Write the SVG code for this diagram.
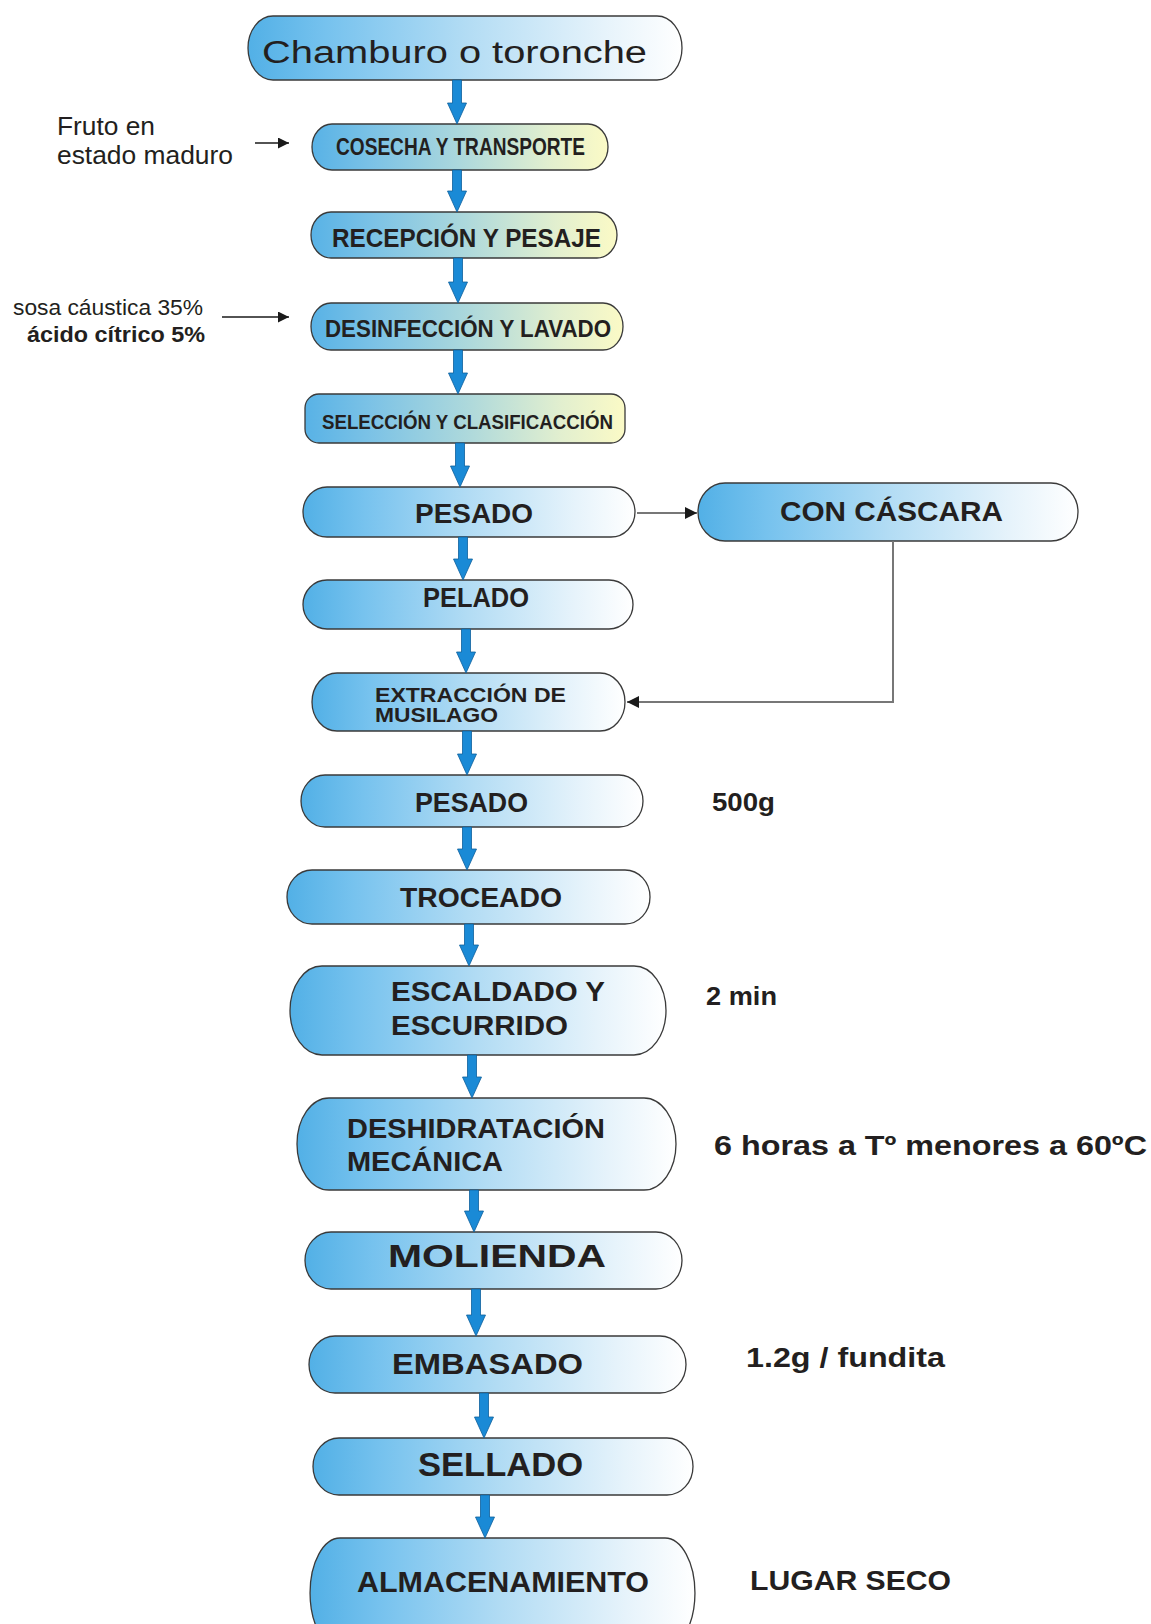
<svg xmlns="http://www.w3.org/2000/svg" width="1151" height="1624" viewBox="0 0 1151 1624">
  <defs>
    <linearGradient id="gBlue" x1="0" y1="0" x2="1" y2="0">
      <stop offset="0" stop-color="#52b0e6"/>
      <stop offset="0.18" stop-color="#76c2ee"/>
      <stop offset="0.5" stop-color="#b2dcf4"/>
      <stop offset="0.82" stop-color="#e6f3fb"/>
      <stop offset="1" stop-color="#ffffff"/>
    </linearGradient>
    <linearGradient id="gYellow" x1="0" y1="0" x2="1" y2="0">
      <stop offset="0" stop-color="#58b2e6"/>
      <stop offset="0.2" stop-color="#7bc2e6"/>
      <stop offset="0.5" stop-color="#acd8dc"/>
      <stop offset="0.8" stop-color="#e2efcf"/>
      <stop offset="1" stop-color="#fbfac6"/>
    </linearGradient>
    <marker id="blackHead" viewBox="0 0 10 10" refX="10" refY="5" markerWidth="11" markerHeight="11" markerUnits="userSpaceOnUse" orient="auto">
      <path d="M0,0 L10,5 L0,10 Z" fill="#1a1a1a"/>
    </marker>
    <marker id="blackHeadL" viewBox="0 0 10 10" refX="10" refY="5" markerWidth="12" markerHeight="12" markerUnits="userSpaceOnUse" orient="auto">
      <path d="M0,0 L10,5 L0,10 Z" fill="#1a1a1a"/>
    </marker>
  </defs>
  <style>
    .node { stroke: #3a3a3a; stroke-width: 1.3; }
    .blue { fill: url(#gBlue); }
    .yel { fill: url(#gYellow); }
    .t { font-family: "Liberation Sans", Arial, sans-serif; fill: #231f20; }
    .b { font-weight: bold; }
    .flow { fill: #1a8ad6; stroke: #0e5f9c; stroke-width: 0.8; }
    .thin { fill: none; stroke: #1a1a1a; stroke-width: 1.5; }
    .grey { fill: none; stroke: #777; stroke-width: 2; }
  </style>
  <rect width="1151" height="1624" fill="#ffffff"/>

  <!-- side inputs -->
  <g id="input-fruto">
    <text class="t" x="57" y="135" font-size="25" textLength="98" lengthAdjust="spacingAndGlyphs">Fruto en</text>
    <text class="t" x="57" y="164" font-size="25" textLength="176" lengthAdjust="spacingAndGlyphs">estado maduro</text>
  </g>
  <g id="input-quimicos">
    <text class="t" x="13" y="315" font-size="22" textLength="190" lengthAdjust="spacingAndGlyphs">sosa cáustica 35%</text>
    <text class="t b" x="27" y="342" font-size="22" textLength="178" lengthAdjust="spacingAndGlyphs">ácido cítrico 5%</text>
  </g>

  <!-- process nodes -->
  <g id="n-chamburo">
    <path class="node blue" d="M273,16 H657 A25,32 0 0 1 657,80 H273 A25,32 0 0 1 273,16 Z"/>
    <text class="t" x="262" y="63" font-size="31" textLength="385" lengthAdjust="spacingAndGlyphs">Chamburo o toronche</text>
  </g>
  <g id="n-cosecha">
    <path class="node yel" d="M332,124 H588 A20,23 0 0 1 588,170 H332 A20,23 0 0 1 332,124 Z"/>
    <text class="t b" x="336" y="155" font-size="23" textLength="249" lengthAdjust="spacingAndGlyphs">COSECHA Y TRANSPORTE</text>
  </g>
  <g id="n-recepcion">
    <path class="node yel" d="M331,212 H597 A20,23 0 0 1 597,258 H331 A20,23 0 0 1 331,212 Z"/>
    <text class="t b" x="332" y="247" font-size="26" textLength="269" lengthAdjust="spacingAndGlyphs">RECEPCIÓN Y PESAJE</text>
  </g>
  <g id="n-desinfeccion">
    <path class="node yel" d="M331,303 H603 A20,23.5 0 0 1 603,350 H331 A20,23.5 0 0 1 331,303 Z"/>
    <text class="t b" x="325" y="337" font-size="24" textLength="286" lengthAdjust="spacingAndGlyphs">DESINFECCIÓN Y LAVADO</text>
  </g>
  <g id="n-seleccion">
    <rect class="node yel" x="305" y="394" width="320" height="49" rx="14" ry="14"/>
    <text class="t b" x="322" y="429" font-size="21" textLength="291" lengthAdjust="spacingAndGlyphs">SELECCIÓN Y CLASIFICACCIÓN</text>
  </g>
  <g id="n-pesado1">
    <path class="node blue" d="M327,487 H611 A24,25 0 0 1 611,537 H327 A24,25 0 0 1 327,487 Z"/>
    <text class="t b" x="415" y="523" font-size="27" textLength="118" lengthAdjust="spacingAndGlyphs">PESADO</text>
  </g>
  <g id="n-cascara">
    <path class="node blue" d="M725,483 H1051 A27,29 0 0 1 1051,541 H725 A27,29 0 0 1 725,483 Z"/>
    <text class="t b" x="780" y="521" font-size="28" textLength="223" lengthAdjust="spacingAndGlyphs">CON CÁSCARA</text>
  </g>
  <g id="n-pelado">
    <path class="node blue" d="M327,580 H609 A24,24.5 0 0 1 609,629 H327 A24,24.5 0 0 1 327,580 Z"/>
    <text class="t b" x="423" y="607" font-size="27" textLength="106" lengthAdjust="spacingAndGlyphs">PELADO</text>
  </g>
  <g id="n-extraccion">
    <path class="node blue" d="M337,673 H600 A25,29 0 0 1 600,731 H337 A25,29 0 0 1 337,673 Z"/>
    <text class="t b" x="375" y="702" font-size="20" textLength="191" lengthAdjust="spacingAndGlyphs">EXTRACCIÓN DE</text>
    <text class="t b" x="375" y="722" font-size="20" textLength="123" lengthAdjust="spacingAndGlyphs">MUSILAGO</text>
  </g>
  <g id="n-pesado2">
    <path class="node blue" d="M325,775 H619 A24,26 0 0 1 619,827 H325 A24,26 0 0 1 325,775 Z"/>
    <text class="t b" x="415" y="812" font-size="27" textLength="113" lengthAdjust="spacingAndGlyphs">PESADO</text>
  </g>
  <g id="n-troceado">
    <path class="node blue" d="M312,870 H625 A25,27 0 0 1 625,924 H312 A25,27 0 0 1 312,870 Z"/>
    <text class="t b" x="400" y="907" font-size="27" textLength="162" lengthAdjust="spacingAndGlyphs">TROCEADO</text>
  </g>
  <g id="n-escaldado">
    <path class="node blue" d="M322,966 H634 A32,44.5 0 0 1 634,1055 H322 A32,44.5 0 0 1 322,966 Z"/>
    <text class="t b" x="391" y="1001" font-size="28" textLength="214" lengthAdjust="spacingAndGlyphs">ESCALDADO Y</text>
    <text class="t b" x="391" y="1035" font-size="28" textLength="177" lengthAdjust="spacingAndGlyphs">ESCURRIDO</text>
  </g>
  <g id="n-deshidratacion">
    <path class="node blue" d="M329,1098 H644 A32,46 0 0 1 644,1190 H329 A32,46 0 0 1 329,1098 Z"/>
    <text class="t b" x="347" y="1138" font-size="28" textLength="258" lengthAdjust="spacingAndGlyphs">DESHIDRATACIÓN</text>
    <text class="t b" x="347" y="1171" font-size="28" textLength="156" lengthAdjust="spacingAndGlyphs">MECÁNICA</text>
  </g>
  <g id="n-molienda">
    <path class="node blue" d="M331,1232 H656 A26,28.5 0 0 1 656,1289 H331 A26,28.5 0 0 1 331,1232 Z"/>
    <text class="t b" x="388" y="1267" font-size="31" textLength="218" lengthAdjust="spacingAndGlyphs">MOLIENDA</text>
  </g>
  <g id="n-embasado">
    <path class="node blue" d="M335,1336 H660 A26,28.5 0 0 1 660,1393 H335 A26,28.5 0 0 1 335,1336 Z"/>
    <text class="t b" x="392" y="1374" font-size="30" textLength="191" lengthAdjust="spacingAndGlyphs">EMBASADO</text>
  </g>
  <g id="n-sellado">
    <path class="node blue" d="M339,1438 H667 A26,28.5 0 0 1 667,1495 H339 A26,28.5 0 0 1 339,1438 Z"/>
    <text class="t b" x="418" y="1476" font-size="33" textLength="165" lengthAdjust="spacingAndGlyphs">SELLADO</text>
  </g>
  <g id="n-almacenamiento">
    <path class="node blue" d="M340,1538 H665 A30,55 0 0 1 665,1648 H340 A30,55 0 0 1 340,1538 Z"/>
    <text class="t b" x="357" y="1592" font-size="29" textLength="292" lengthAdjust="spacingAndGlyphs">ALMACENAMIENTO</text>
  </g>

  <!-- process parameters -->
  <g id="notes">
    <text class="t b" x="712" y="811" font-size="25" textLength="63" lengthAdjust="spacingAndGlyphs">500g</text>
    <text class="t b" x="706" y="1005" font-size="25" textLength="71" lengthAdjust="spacingAndGlyphs">2 min</text>
    <text class="t b" x="714" y="1155" font-size="27" textLength="433" lengthAdjust="spacingAndGlyphs">6 horas a Tº menores a 60ºC</text>
    <text class="t b" x="746" y="1367" font-size="28" textLength="199" lengthAdjust="spacingAndGlyphs">1.2g / fundita</text>
    <text class="t b" x="750" y="1590" font-size="28" textLength="201" lengthAdjust="spacingAndGlyphs">LUGAR SECO</text>
  </g>

  <!-- connectors -->
  <g id="connectors">
    <!-- main flow: fat blue arrows (shaft 9 wide, head 19 wide, 21 long) -->
    <path class="flow" d="M452.5,80 h9 v23 h5 l-9.5,21 l-9.5,-21 h5 Z"/>
    <path class="flow" d="M452.5,170 h9 v21 h5 l-9.5,21 l-9.5,-21 h5 Z"/>
    <path class="flow" d="M453.5,258 h9 v24 h5 l-9.5,21 l-9.5,-21 h5 Z"/>
    <path class="flow" d="M453.5,350 h9 v23 h5 l-9.5,21 l-9.5,-21 h5 Z"/>
    <path class="flow" d="M455.5,443 h9 v23 h5 l-9.5,21 l-9.5,-21 h5 Z"/>
    <path class="flow" d="M458.5,537 h9 v22 h5 l-9.5,21 l-9.5,-21 h5 Z"/>
    <path class="flow" d="M461.5,629 h9 v23 h5 l-9.5,21 l-9.5,-21 h5 Z"/>
    <path class="flow" d="M462.5,731 h9 v23 h5 l-9.5,21 l-9.5,-21 h5 Z"/>
    <path class="flow" d="M462.5,827 h9 v22 h5 l-9.5,21 l-9.5,-21 h5 Z"/>
    <path class="flow" d="M464.5,924 h9 v21 h5 l-9.5,21 l-9.5,-21 h5 Z"/>
    <path class="flow" d="M467.5,1055 h9 v22 h5 l-9.5,21 l-9.5,-21 h5 Z"/>
    <path class="flow" d="M469.5,1190 h9 v21 h5 l-9.5,21 l-9.5,-21 h5 Z"/>
    <path class="flow" d="M471.5,1289 h9 v26 h5 l-9.5,21 l-9.5,-21 h5 Z"/>
    <path class="flow" d="M479.5,1393 h9 v24 h5 l-9.5,21 l-9.5,-21 h5 Z"/>
    <path class="flow" d="M480.5,1495 h9 v22 h5 l-9.5,21 l-9.5,-21 h5 Z"/>

    <!-- inputs -->
    <line class="thin" x1="255" y1="143" x2="289" y2="143" marker-end="url(#blackHead)"/>
    <line class="thin" x1="222" y1="317" x2="289" y2="317" marker-end="url(#blackHead)"/>

    <!-- branch through CON CÁSCARA -->
    <line class="grey" x1="637" y1="513" x2="697" y2="513" marker-end="url(#blackHeadL)"/>
    <polyline class="grey" points="893,541 893,702 627,702" marker-end="url(#blackHeadL)"/>
  </g>
</svg>
